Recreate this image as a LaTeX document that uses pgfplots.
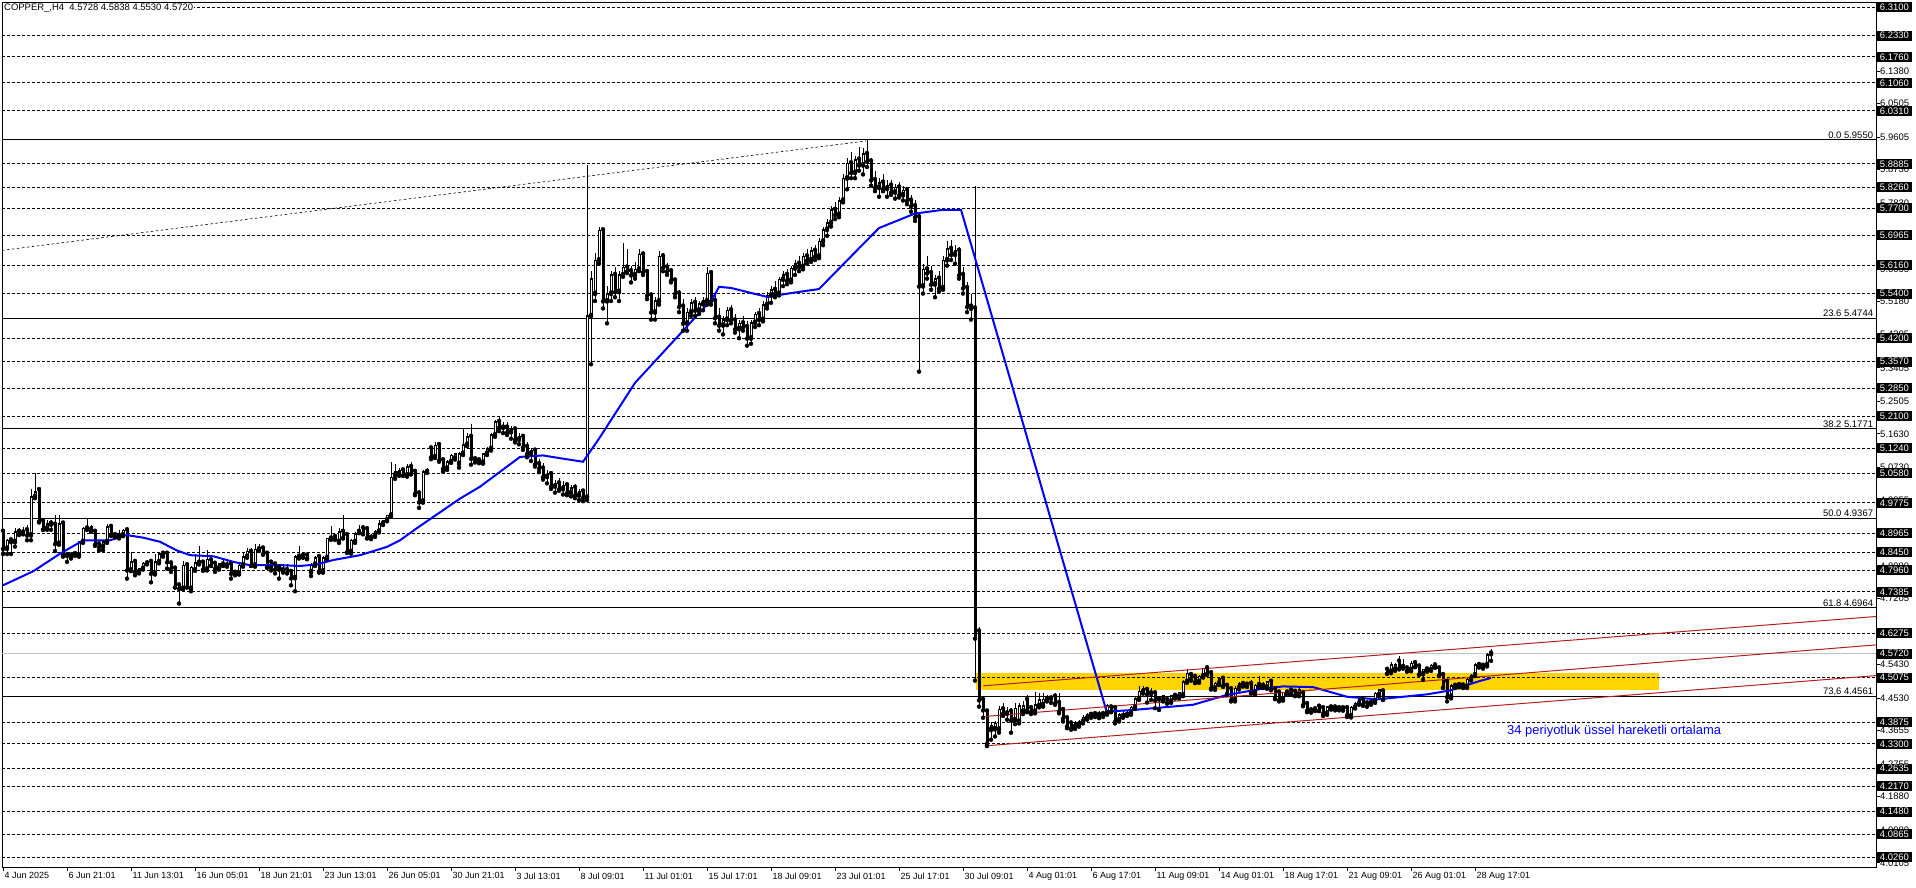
\documentclass[border=0pt]{standalone}
\usepackage{fontspec}
\setmainfont{Liberation Sans}
\usepackage{pgfplots}
\usepackage{pgfplotstable}
\pgfplotsset{compat=1.18}

\definecolor{zone}{RGB}{255,212,0}
\definecolor{chan}{RGB}{178,30,30}
\definecolor{bidgrey}{RGB}{192,192,192}
\definecolor{emablue}{RGB}{0,0,255}

\tikzset{
  plainlab/.style={anchor=west, xshift=0.5bp, inner xsep=3.5bp, inner ysep=0.5bp, font=\fontsize{9.5}{10}\selectfont},
  boxlab/.style={anchor=west, xshift=0.5bp, fill=black, text=white, inner xsep=3.2bp, inner ysep=1.2bp, text height=7bp, text depth=0.6bp, font=\fontsize{9.5}{10}\selectfont},
  fiblab/.style={anchor=south east, xshift=-2bp, inner sep=0.8bp, font=\fontsize{9.5}{10}\selectfont},
}

\pgfplotstableread{
i o h l c
0 4.900 4.905 4.840 4.855
1 4.855 4.880 4.840 4.877
2 4.877 4.882 4.840 4.873
3 4.873 4.909 4.860 4.900
4 4.900 4.909 4.891 4.898
5 4.898 4.913 4.893 4.900
6 4.904 4.918 4.877 4.891
7 4.891 5.016 4.877 4.994
8 4.994 5.058 4.990 5.007
9 5.012 5.016 4.925 4.928
10 4.928 4.932 4.905 4.907
11 4.909 4.931 4.905 4.922
12 4.922 4.931 4.905 4.920
13 4.919 4.945 4.848 4.868
14 4.868 4.945 4.865 4.922
15 4.922 4.925 4.833 4.837
16 4.837 4.842 4.819 4.836
17 4.836 4.846 4.828 4.840
18 4.840 4.846 4.835 4.842
19 4.837 4.875 4.833 4.873
20 4.873 4.913 4.870 4.909
21 4.909 4.936 4.905 4.907
22 4.905 4.918 4.900 4.913
23 4.900 4.904 4.862 4.866
24 4.866 4.868 4.850 4.860
25 4.860 4.876 4.850 4.873
26 4.873 4.922 4.870 4.913
27 4.913 4.916 4.889 4.891
28 4.891 4.895 4.885 4.887
29 4.889 4.904 4.882 4.891
30 4.891 4.906 4.888 4.904
31 4.904 4.908 4.774 4.797
32 4.797 4.846 4.794 4.819
33 4.819 4.822 4.783 4.792
34 4.792 4.803 4.788 4.801
35 4.801 4.818 4.798 4.815
36 4.815 4.824 4.812 4.821
37 4.819 4.822 4.764 4.788
38 4.788 4.841 4.785 4.819
39 4.819 4.846 4.815 4.841
40 4.841 4.846 4.833 4.839
41 4.841 4.844 4.801 4.819
42 4.815 4.818 4.792 4.801
43 4.801 4.805 4.750 4.752
44 4.756 4.758 4.707 4.747
45 4.747 4.821 4.745 4.810
46 4.810 4.815 4.750 4.752
47 4.747 4.808 4.740 4.805
48 4.797 4.841 4.795 4.817
49 4.817 4.862 4.812 4.820
50 4.817 4.820 4.795 4.799
51 4.799 4.850 4.796 4.826
52 4.823 4.828 4.808 4.810
53 4.814 4.818 4.792 4.802
54 4.802 4.816 4.798 4.814
55 4.812 4.826 4.808 4.810
56 4.810 4.823 4.806 4.812
57 4.812 4.815 4.774 4.788
58 4.790 4.795 4.783 4.791
59 4.788 4.812 4.785 4.810
60 4.810 4.846 4.806 4.833
61 4.833 4.855 4.830 4.848
62 4.846 4.857 4.808 4.810
63 4.810 4.866 4.806 4.853
64 4.853 4.866 4.848 4.851
65 4.855 4.858 4.838 4.841
66 4.841 4.844 4.803 4.806
67 4.817 4.820 4.796 4.806
68 4.812 4.815 4.788 4.799
69 4.803 4.806 4.774 4.799
70 4.797 4.808 4.790 4.801
71 4.797 4.812 4.788 4.790
72 4.792 4.798 4.756 4.776
73 4.776 4.837 4.740 4.833
74 4.833 4.862 4.828 4.835
75 4.835 4.846 4.830 4.833
76 4.836 4.838 4.826 4.829
77 4.792 4.816 4.781 4.812
78 4.812 4.834 4.808 4.830
79 4.832 4.836 4.790 4.794
80 4.794 4.834 4.790 4.830
81 4.830 4.884 4.826 4.882
82 4.882 4.916 4.878 4.884
83 4.886 4.888 4.878 4.882
84 4.873 4.909 4.870 4.900
85 4.900 4.945 4.882 4.884
86 4.891 4.894 4.843 4.846
87 4.846 4.880 4.841 4.877
88 4.873 4.898 4.870 4.895
89 4.900 4.919 4.896 4.904
90 4.909 4.919 4.893 4.896
91 4.907 4.910 4.882 4.884
92 4.884 4.895 4.880 4.886
93 4.890 4.904 4.886 4.901
94 4.901 4.931 4.898 4.922
95 4.922 4.932 4.918 4.931
96 4.931 4.946 4.928 4.944
97 4.944 5.088 4.940 5.047
98 5.052 5.083 5.042 5.061
99 5.056 5.070 5.050 5.065
100 5.065 5.070 5.050 5.052
101 5.052 5.083 5.048 5.074
102 5.074 5.086 5.054 5.056
103 5.061 5.064 4.998 5.003
104 5.003 5.006 4.964 4.980
105 4.982 5.065 4.978 5.061
106 5.061 5.070 5.058 5.066
107 5.124 5.130 5.095 5.101
108 5.101 5.140 5.098 5.133
109 5.133 5.140 5.088 5.092
110 5.092 5.095 5.061 5.070
111 5.070 5.092 5.066 5.088
112 5.088 5.110 5.085 5.106
113 5.097 5.112 5.094 5.110
114 5.083 5.114 5.072 5.110
115 5.110 5.180 5.106 5.134
116 5.134 5.165 5.130 5.155
117 5.155 5.190 5.080 5.097
118 5.095 5.100 5.086 5.092
119 5.092 5.098 5.084 5.089
120 5.086 5.112 5.083 5.110
121 5.110 5.128 5.106 5.123
122 5.123 5.165 5.118 5.160
123 5.160 5.200 5.155 5.195
124 5.195 5.208 5.170 5.180
125 5.180 5.195 5.165 5.180
126 5.180 5.195 5.160 5.168
127 5.168 5.185 5.150 5.175
128 5.175 5.182 5.140 5.148
129 5.148 5.165 5.135 5.155
130 5.155 5.162 5.120 5.128
131 5.128 5.140 5.100 5.110
132 5.110 5.125 5.090 5.118
133 5.118 5.122 5.075 5.082
134 5.082 5.095 5.060 5.070
135 5.070 5.085 5.040 5.048
136 5.048 5.065 5.030 5.055
137 5.055 5.060 5.015 5.022
138 5.022 5.040 5.005 5.030
139 5.030 5.045 5.010 5.015
140 5.015 5.035 5.000 5.025
141 5.025 5.032 4.998 5.005
142 5.005 5.025 4.995 5.018
143 5.018 5.028 4.990 4.998
144 4.998 5.015 4.985 5.008
145 5.008 5.012 4.982 4.992
146 4.992 5.886 4.985 5.480
147 5.480 5.600 5.350 5.580
148 5.540 5.650 5.520 5.630
149 5.630 5.720 5.620 5.710
150 5.710 5.715 5.500 5.520
151 5.520 5.560 5.460 5.540
152 5.540 5.600 5.520 5.590
153 5.590 5.610 5.530 5.545
154 5.545 5.600 5.520 5.590
155 5.590 5.676 5.585 5.610
156 5.610 5.660 5.595 5.600
157 5.600 5.615 5.570 5.590
158 5.590 5.625 5.580 5.605
159 5.605 5.660 5.600 5.645
160 5.645 5.655 5.590 5.598
161 5.598 5.605 5.525 5.535
162 5.535 5.545 5.470 5.490
163 5.490 5.530 5.470 5.520
164 5.520 5.655 5.510 5.640
165 5.640 5.648 5.600 5.610
166 5.610 5.622 5.590 5.600
167 5.600 5.608 5.570 5.575
168 5.575 5.585 5.530 5.540
169 5.540 5.550 5.490 5.505
170 5.505 5.525 5.440 5.460
171 5.460 5.500 5.440 5.490
172 5.490 5.525 5.480 5.515
173 5.515 5.530 5.480 5.495
174 5.495 5.520 5.485 5.512
175 5.512 5.530 5.495 5.520
176 5.520 5.610 5.510 5.595
177 5.595 5.600 5.510 5.520
178 5.520 5.540 5.460 5.475
179 5.475 5.500 5.440 5.455
180 5.455 5.480 5.430 5.470
181 5.470 5.505 5.455 5.495
182 5.495 5.510 5.460 5.468
183 5.468 5.485 5.435 5.445
184 5.445 5.470 5.420 5.460
185 5.460 5.480 5.440 5.450
186 5.450 5.465 5.400 5.420
187 5.420 5.470 5.405 5.462
188 5.462 5.490 5.450 5.485
189 5.485 5.500 5.455 5.470
190 5.470 5.520 5.465 5.510
191 5.510 5.545 5.500 5.535
192 5.535 5.560 5.515 5.550
193 5.550 5.575 5.530 5.540
194 5.540 5.585 5.535 5.578
195 5.578 5.600 5.560 5.590
196 5.590 5.605 5.565 5.575
197 5.575 5.615 5.570 5.608
198 5.608 5.630 5.590 5.620
199 5.620 5.640 5.600 5.612
200 5.612 5.650 5.605 5.640
201 5.640 5.660 5.620 5.630
202 5.630 5.665 5.625 5.655
203 5.655 5.670 5.630 5.640
204 5.640 5.690 5.635 5.680
205 5.680 5.720 5.670 5.712
206 5.712 5.740 5.695 5.730
207 5.730 5.775 5.720 5.765
208 5.765 5.785 5.740 5.752
209 5.752 5.800 5.745 5.790
210 5.790 5.860 5.785 5.850
211 5.850 5.905 5.820 5.890
212 5.890 5.920 5.850 5.865
213 5.865 5.910 5.850 5.900
214 5.900 5.935 5.870 5.885
215 5.885 5.930 5.860 5.915
216 5.915 5.955 5.880 5.895
217 5.895 5.905 5.830 5.845
218 5.845 5.870 5.815 5.825
219 5.825 5.850 5.800 5.838
220 5.838 5.860 5.815 5.822
221 5.822 5.845 5.800 5.830
222 5.830 5.845 5.805 5.812
223 5.812 5.835 5.795 5.825
224 5.825 5.840 5.798 5.805
225 5.805 5.830 5.790 5.818
226 5.818 5.825 5.780 5.790
227 5.790 5.805 5.760 5.775
228 5.775 5.790 5.735 5.745
229 5.745 5.755 5.330 5.560
230 5.560 5.620 5.540 5.605
231 5.605 5.640 5.580 5.595
232 5.595 5.615 5.550 5.565
233 5.565 5.590 5.530 5.580
234 5.580 5.600 5.545 5.555
235 5.555 5.640 5.550 5.630
236 5.630 5.680 5.615 5.660
237 5.660 5.685 5.630 5.645
238 5.645 5.670 5.620 5.655
239 5.655 5.665 5.580 5.590
240 5.590 5.610 5.540 5.555
241 5.555 5.570 5.490 5.505
242 5.505 5.540 5.470 5.500
243 5.500 5.830 4.500 4.614
244 4.632 4.645 4.430 4.448
245 4.448 4.452 4.400 4.421
246 4.417 4.420 4.324 4.332
247 4.368 4.390 4.341 4.378
248 4.370 4.392 4.350 4.385
249 4.369 4.432 4.360 4.423
250 4.423 4.440 4.405 4.412
251 4.412 4.430 4.395 4.414
252 4.417 4.425 4.360 4.394
253 4.394 4.440 4.383 4.426
254 4.390 4.440 4.385 4.432
255 4.417 4.445 4.410 4.432
256 4.448 4.461 4.415 4.421
257 4.426 4.430 4.410 4.417
258 4.417 4.468 4.412 4.435
259 4.432 4.466 4.428 4.448
260 4.435 4.466 4.430 4.450
261 4.450 4.462 4.444 4.452
262 4.452 4.460 4.440 4.455
263 4.457 4.466 4.435 4.440
264 4.440 4.466 4.412 4.417
265 4.421 4.425 4.390 4.399
266 4.399 4.402 4.372 4.378
267 4.385 4.390 4.368 4.372
268 4.376 4.392 4.370 4.387
269 4.381 4.395 4.376 4.390
270 4.390 4.408 4.385 4.401
271 4.399 4.413 4.395 4.408
272 4.408 4.415 4.400 4.410
273 4.410 4.416 4.402 4.408
274 4.408 4.417 4.399 4.410
275 4.410 4.418 4.402 4.412
276 4.412 4.437 4.408 4.432
277 4.428 4.430 4.415 4.417
278 4.426 4.428 4.385 4.390
279 4.394 4.412 4.390 4.408
280 4.405 4.418 4.400 4.412
281 4.408 4.418 4.405 4.414
282 4.412 4.432 4.408 4.428
283 4.428 4.455 4.424 4.451
284 4.451 4.486 4.448 4.471
285 4.470 4.486 4.465 4.480
286 4.475 4.480 4.441 4.464
287 4.466 4.480 4.448 4.465
288 4.466 4.470 4.426 4.448
289 4.450 4.458 4.421 4.452
290 4.448 4.462 4.444 4.459
291 4.448 4.452 4.438 4.440
292 4.444 4.462 4.440 4.459
293 4.459 4.466 4.452 4.462
294 4.457 4.470 4.452 4.468
295 4.461 4.502 4.458 4.497
296 4.497 4.530 4.494 4.520
297 4.515 4.520 4.500 4.506
298 4.510 4.515 4.493 4.497
299 4.497 4.515 4.494 4.512
300 4.512 4.535 4.508 4.533
301 4.533 4.542 4.515 4.520
302 4.520 4.524 4.476 4.480
303 4.480 4.497 4.475 4.493
304 4.493 4.508 4.488 4.505
305 4.505 4.510 4.483 4.486
306 4.486 4.490 4.462 4.466
307 4.477 4.480 4.444 4.448
308 4.448 4.485 4.444 4.480
309 4.480 4.495 4.476 4.491
310 4.491 4.497 4.484 4.489
311 4.489 4.495 4.483 4.488
312 4.491 4.502 4.465 4.468
313 4.468 4.490 4.462 4.488
314 4.488 4.513 4.482 4.486
315 4.486 4.495 4.480 4.486
316 4.482 4.500 4.478 4.497
317 4.497 4.502 4.474 4.477
318 4.477 4.480 4.450 4.453
319 4.468 4.472 4.444 4.448
320 4.450 4.470 4.446 4.468
321 4.468 4.474 4.462 4.470
322 4.473 4.476 4.462 4.466
323 4.470 4.474 4.458 4.462
324 4.462 4.486 4.458 4.475
325 4.466 4.470 4.431 4.435
326 4.437 4.440 4.415 4.420
327 4.420 4.428 4.414 4.423
328 4.423 4.430 4.418 4.426
329 4.430 4.432 4.418 4.420
330 4.426 4.430 4.405 4.412
331 4.412 4.432 4.408 4.430
332 4.428 4.434 4.422 4.430
333 4.428 4.432 4.420 4.426
334 4.426 4.431 4.420 4.427
335 4.426 4.430 4.419 4.424
336 4.426 4.430 4.402 4.408
337 4.405 4.432 4.401 4.428
338 4.428 4.442 4.425 4.439
339 4.439 4.450 4.435 4.448
340 4.448 4.452 4.432 4.437
341 4.439 4.442 4.430 4.432
342 4.440 4.446 4.435 4.444
343 4.444 4.470 4.440 4.466
344 4.462 4.478 4.458 4.475
345 4.471 4.476 4.448 4.450
346 4.529 4.535 4.518 4.520
347 4.524 4.551 4.520 4.542
348 4.530 4.548 4.526 4.542
349 4.551 4.566 4.530 4.533
350 4.537 4.559 4.532 4.538
351 4.533 4.540 4.524 4.527
352 4.529 4.553 4.525 4.547
353 4.547 4.552 4.536 4.538
354 4.538 4.542 4.515 4.518
355 4.518 4.532 4.502 4.530
356 4.530 4.536 4.524 4.529
357 4.529 4.545 4.526 4.541
358 4.541 4.546 4.534 4.539
359 4.533 4.538 4.512 4.515
360 4.515 4.518 4.480 4.482
361 4.497 4.500 4.444 4.457
362 4.457 4.490 4.452 4.486
363 4.486 4.492 4.480 4.488
364 4.488 4.494 4.482 4.487
365 4.487 4.492 4.480 4.484
366 4.484 4.508 4.480 4.504
367 4.504 4.518 4.500 4.515
368 4.515 4.548 4.512 4.542
369 4.542 4.550 4.535 4.540
370 4.540 4.548 4.532 4.542
371 4.542 4.575 4.538 4.569
372 4.5728 4.5838 4.5530 4.5720
}\candles

\begin{document}
\begin{tikzpicture}
\useasboundingbox (0,0) rectangle (1916bp,888bp);
\begin{axis}[
    at={(2bp,21bp)}, anchor=south west,
    width=1874bp, height=865bp, scale only axis,
    xmin=-0.25, xmax=468.25,
    ymin=3.9991, ymax=6.3234,
    clip=false,
    axis line style={line width=0.9bp},
    tick style={black, line width=0.9bp},
    tick align=outside,
    major tick length=3.5bp,
    xtick pos=left, ytick pos=right,
    xtick={0,16,...,368},
    xticklabels={4 Jun 2025,6 Jun 21:01,11 Jun 13:01,16 Jun 05:01,18 Jun 21:01,23 Jun 13:01,26 Jun 05:01,30 Jun 21:01,3 Jul 13:01,8 Jul 09:01,11 Jul 01:01,15 Jul 17:01,18 Jul 09:01,23 Jul 01:01,25 Jul 17:01,30 Jul 09:01,4 Aug 01:01,6 Aug 17:01,11 Aug 09:01,14 Aug 01:01,18 Aug 17:01,21 Aug 09:01,26 Aug 01:01,28 Aug 17:01},
    xticklabel style={anchor=north west, inner sep=0pt, xshift=1.5bp, yshift=-2bp, font=\fontsize{9}{10}\selectfont},
    ytick={6.2255,6.1380,6.0505,5.9605,5.8730,5.7830,5.6955,5.6055,5.5180,5.4305,5.3405,5.2505,5.1630,5.0730,4.9855,4.8955,4.8080,4.7205,4.6305,4.5430,4.4530,4.3655,4.2755,4.1880,4.0980,4.0105},
    yticklabels={},
]

% support / resistance zone
\addplot[draw=none, fill=zone] coordinates {(243.3,4.475) (414,4.475) (414,4.521) (243.3,4.521)} -- cycle;

% horizontal levels
\pgfplotsinvokeforeach{6.3100,6.2330,6.1760,6.1060,6.0310,5.8885,5.8260,5.7700,5.6965,5.6160,5.5400,5.4200,5.3570,5.2850,5.2100,5.1240,5.0580,4.9775,4.8965,4.8450,4.7960,4.7385,4.6275,4.5075,4.3875,4.3300,4.2635,4.2170,4.1480,4.0865,4.0260}{
  \addplot[black, line width=0.8bp, dash pattern=on 3bp off 2bp] coordinates {(-0.25,#1) (468.25,#1)};
}
% fibonacci levels
\pgfplotsinvokeforeach{5.9550,5.4744,5.1771,4.9367,4.6964,4.4561}{
  \addplot[black, line width=0.9bp] coordinates {(-0.25,#1) (468.25,#1)};
}
% bid line
\addplot[bidgrey, line width=0.9bp] coordinates {(-0.25,4.5720) (468.25,4.5720)};
% fibonacci base line
\addplot[black, line width=0.6bp, dash pattern=on 2.5bp off 2.5bp] coordinates {(-0.25,5.656) (215.75,5.950)};

% candles: wicks, black bodies, white centres of rising bodies
\addplot[only marks, mark=none, error bars/.cd, y dir=plus, y explicit, error mark=none,
    error bar style={draw=black, line width=1bp}]
  table[x=i, y=l, y error plus expr={\thisrow{h}-\thisrow{l}}] {\candles};
\addplot[only marks, mark=none, error bars/.cd, y dir=plus, y explicit, error mark=none,
    error bar style={draw=black, line width=3bp}]
  table[x=i, y expr={min(\thisrow{o},\thisrow{c})-0.00134}, y error plus expr={abs(\thisrow{c}-\thisrow{o})+0.00269}] {\candles};
\addplot[only marks, mark=none, error bars/.cd, y dir=plus, y explicit, error mark=none,
    error bar style={draw=white, line width=1bp}]
  table[x=i, y expr={\thisrow{o}+0.00269}, y error plus expr={max(\thisrow{c}-\thisrow{o}-0.00538,0)}] {\candles};

% 34-period EMA
\addplot[emablue, line width=2bp] coordinates {
(0,4.756) (7.6,4.794) (14.25,4.841) (20.1,4.877) (26.75,4.877) (30.9,4.891)
(35.1,4.884) (39.25,4.873) (43.4,4.850) (46.75,4.837) (52.6,4.834) (57.6,4.819)
(61.75,4.810) (70,4.810) (74.25,4.808) (78.4,4.812) (82.6,4.824) (89.25,4.837)
(95.9,4.859) (99.25,4.877) (103.4,4.909) (107.6,4.940) (114.25,4.989)
(119.25,5.021) (124.25,5.061) (129.25,5.101) (135,5.105) (139,5.098) (145,5.088)
(149,5.150) (158,5.300) (170,5.440) (177.5,5.528) (179,5.558) (182,5.555)
(191,5.531) (197.5,5.542) (204,5.552) (210,5.618) (219,5.716) (228,5.755)
(235,5.765) (239.5,5.765) (275.9,4.4166) (282.5,4.421) (297.5,4.435)
(306,4.4616) (314.25,4.477) (320,4.4843) (327.5,4.4825) (336,4.4565)
(343.5,4.4495) (356,4.463) (361.75,4.4735) (369.25,4.4991) (372,4.507)
};

% channel lines
\addplot[chan, line width=1bp] coordinates {(245.1,4.486) (468.25,4.6722)};
\addplot[chan, line width=1bp] coordinates {(245.1,4.4033) (468.25,4.5959)};
\addplot[chan, line width=1bp] coordinates {(245.4,4.3245) (468.25,4.5134)};

% fibonacci labels
\node[fiblab] at (axis cs:468.25,5.9550) {0.0 5.9550};
\node[fiblab] at (axis cs:468.25,5.4744) {23.6 5.4744};
\node[fiblab] at (axis cs:468.25,5.1771) {38.2 5.1771};
\node[fiblab] at (axis cs:468.25,4.9367) {50.0 4.9367};
\node[fiblab] at (axis cs:468.25,4.6964) {61.8 4.6964};
\node[fiblab] at (axis cs:468.25,4.4561) {73,6 4.4561};

% price scale
\pgfplotsinvokeforeach{6.2255,6.1380,6.0505,5.9605,5.8730,5.7830,5.6955,5.6055,5.5180,5.4305,5.3405,5.2505,5.1630,5.0730,4.9855,4.8955,4.8080,4.7205,4.6305,4.5430,4.4530,4.3655,4.2755,4.1880,4.0980,4.0105}{
  \node[plainlab] at (axis cs:468.25,#1) {#1};
}
\pgfplotsinvokeforeach{6.3100,6.2330,6.1760,6.1060,6.0310,5.8885,5.8260,5.7700,5.6965,5.6160,5.5400,5.4200,5.3570,5.2850,5.2100,5.1240,5.0580,4.9775,4.8965,4.8450,4.7960,4.7385,4.6275,4.5720,4.5075,4.3875,4.3300,4.2635,4.2170,4.1480,4.0865,4.0260}{
  \node[boxlab] at (axis cs:468.25,#1) {#1};
}

% texts
\node[anchor=west, fill=white, inner xsep=1bp, inner ysep=1bp, xshift=1bp, yshift=-6bp, font=\fontsize{9.5}{10}\selectfont] at (rel axis cs:0,1) {COPPER\_,H4 \ 4.5728 4.5838 4.5530 4.5720};
\node[anchor=west, inner sep=0pt, text=emablue, font=\fontsize{13}{15}\selectfont] at (axis cs:376,4.3648) {34 periyotluk üssel hareketli ortalama};
\end{axis}
\end{tikzpicture}
\end{document}
